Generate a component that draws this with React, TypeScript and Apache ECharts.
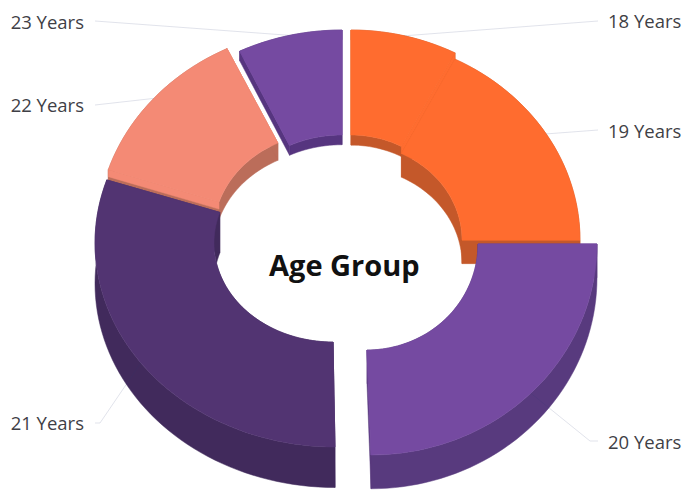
import React, { useEffect, useRef } from "react";
import * as echarts from "echarts";

const categories = ["18 Years", "19 Years", "20 Years", "21 Years", "22 Years", "23 Years"];
const shares = [7.5, 17.5, 25, 30, 12.8, 7.2];
const titleText = "Age Group";

// Styling / layout of each slice (not data)
const topColors = ["#FF6C2F", "#FF6C2F", "#754AA1", "#523472", "#F48A75", "#754AA1"];
const wallColors = ["#C4582A", "#C4582A", "#583A7E", "#412A5C", "#BB6D5A", "#56357F"];
const outerEllipse = [
  [351, 240, 229, 210],
  [351, 240, 229, 203],
  [371, 244, 226, 211],
  [335, 243, 240, 204],
  [328, 233, 231, 205],
  [342, 240, 234, 210],
];
const innerEllipse = [
  [351, 240, 111, 105],
  [351, 240, 111, 97],
  [367, 244, 111, 106],
  [333, 243, 119, 99],
  [328, 233, 114.6, 100],
  [342, 240, 120, 105],
];
const drawOrder = [2, 3, 5, 4, 1, 0];
const depthPerShare = 1.35;
// How far the top colour runs down a slice's cut edge, where the next slice sits against it
const startEdgeFill = [0, 0, 0, 0, 7, 0];
const endEdgeFill = [7.5, 0, 0, 0, 0, 0];
const leaderEnds = [
  [[598, 21], [598, 21]],
  [[598, 130], [598, 130]],
  [[590, 441], [598, 441]],
  [[100, 423], [95, 423]],
  [[95, 105], [95, 105]],
  [[95, 21], [95, 21]],
];
const labelPos = [
  [608, 20, "left"],
  [608, 130, "left"],
  [608, 441, "left"],
  [84, 422, "right"],
  [84, 104, "right"],
  [84, 21, "right"],
];
const FONT = "'Open Sans', Lato, sans-serif";

function arc(e: number[], a0: number, a1: number, dy = 0) {
  const n = Math.max(2, Math.ceil(Math.abs(a1 - a0) / (Math.PI / 90)));
  const pts: number[][] = [];
  for (let i = 0; i <= n; i++) {
    const a = a0 + ((a1 - a0) * i) / n;
    pts.push([e[0] + e[2] * Math.sin(a), e[1] - e[3] * Math.cos(a) + dy]);
  }
  return pts;
}

function renderItem(params: any, api: any) {
  const i = params.dataIndex;
  const total = shares.reduce((s, v) => s + v, 0);
  let before = 0;
  for (let k = 0; k < i; k++) before += shares[k];
  const value = api.value(0);
  const a0 = (before / total) * Math.PI * 2;
  const a1 = ((before + value) / total) * Math.PI * 2;
  const depth = value * depthPerShare;
  const o = outerEllipse[i];
  const n = innerEllipse[i];
  const z = drawOrder[i] * 10 + 1;
  const wall = { fill: wallColors[i], stroke: wallColors[i], lineWidth: 0.5 };
  const top = { fill: topColors[i], stroke: topColors[i], lineWidth: 0.5 };
  const oTop = arc(o, a0, a1);
  const nTop = arc(n, a0, a1);
  const band = (pts: number[][]) =>
    pts.concat(pts.slice().reverse().map((p) => [p[0], p[1] + depth]));
  const face = (p: number[], q: number[], d: number) => [p, q, [q[0], q[1] + d], [p[0], p[1] + d]];
  const poly = (points: number[][], style: any, z2: number) => ({
    type: "polygon",
    shape: { points },
    style,
    z2,
    silent: true,
  });
  const mid = (a0 + a1) / 2;
  const start = arc(o, mid, mid)[0];
  const ends = leaderEnds[i];
  const lp = labelPos[i];
  const oEnd = oTop[oTop.length - 1];
  const nEnd = nTop[nTop.length - 1];
  return {
    type: "group",
    children: [
      poly(band(oTop), wall, z),
      poly(band(nTop), wall, z + 1),
      poly(face(oTop[0], nTop[0], depth), wall, z + 1),
      poly(face(oEnd, nEnd, depth), wall, z + 1),
      poly(face(oTop[0], nTop[0], startEdgeFill[i]), top, z + 2),
      poly(face(oEnd, nEnd, endEdgeFill[i]), top, z + 2),
      poly(oTop.concat(nTop.slice().reverse()), top, z + 3),
      {
        type: "polyline",
        shape: { points: [start, ends[0], ends[1]] },
        style: { fill: "none", stroke: "rgba(45,55,110,0.14)", lineWidth: 1 },
        z2: 100,
        silent: true,
      },
      {
        type: "text",
        x: lp[0],
        y: lp[1],
        style: {
          text: categories[i],
          fill: "#3f3f46",
          font: `400 18.5px ${FONT}`,
          align: lp[2],
          verticalAlign: "middle",
        },
        z2: 101,
        silent: true,
      },
    ],
  };
}

export default function App() {
  const ref = useRef<HTMLDivElement>(null);
  useEffect(() => {
    document.body.style.margin = "0";
    document.body.style.background = "#fff";
    const chart = echarts.init(ref.current!, undefined, { renderer: "svg" });
    chart.setOption({
      animation: false,
      backgroundColor: "#ffffff",
      title: {
        text: titleText,
        left: 269,
        top: 250,
        padding: 0,
        textStyle: { fontFamily: FONT, fontWeight: 700, fontSize: 29, color: "#111111" },
      },
      series: [
        {
          type: "custom",
          coordinateSystem: "none",
          renderItem,
          data: shares.map((v, i) => ({ name: categories[i], value: [v, i + 1] })),
          encode: { value: 0 },
          silent: true,
        },
      ],
    });
    return () => chart.dispose();
  }, []);
  return <div ref={ref} style={{ width: 691, height: 500 }} />;
}
